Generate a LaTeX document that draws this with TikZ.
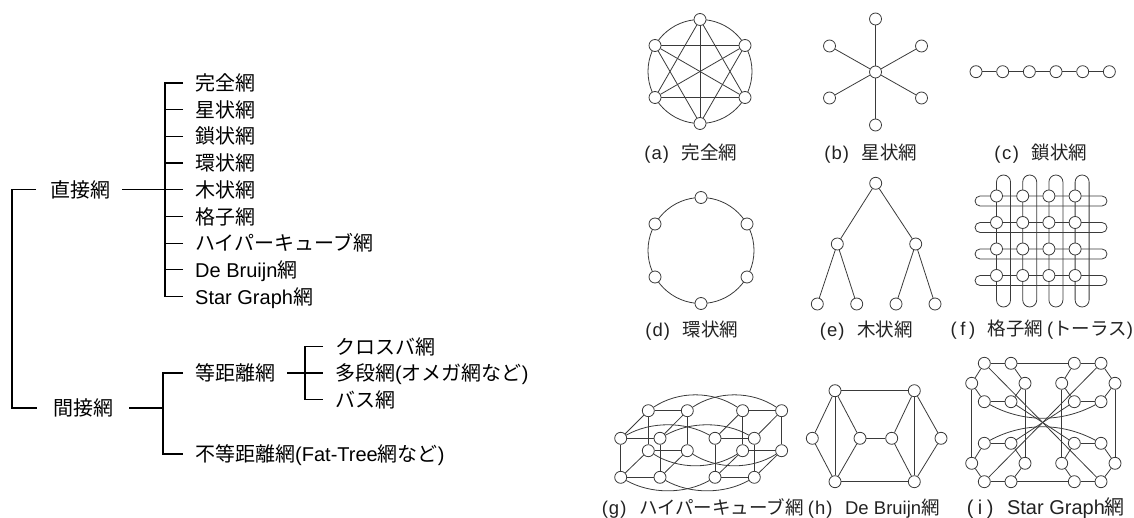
\documentclass[tikz,border=0pt]{standalone}
\usepackage{xcolor}
\usepackage{fontspec}
\setmainfont{Liberation Sans}
\newfontfamily\jp{Noto Sans CJK JP}
\usetikzlibrary{backgrounds}
\definecolor{ln}{HTML}{3A3A3A}
\definecolor{tx}{HTML}{222222}
\newcommand\subl[1]{\makebox[0.5em]{(}\makebox[0.5em]{#1}\makebox[0.5em]{)}\hspace{0.6em}}
\begin{document}
\begin{tikzpicture}[x=1pt,y=-1pt,
 tree/.style={line width=1.2pt},
 tl/.style={anchor=west,inner sep=0pt,font=\fontsize{20}{24}\selectfont,text height=17.6pt,text depth=2.4pt},
 vtx/.style={circle,draw=ln,fill=white,line width=0.8pt,minimum size=12pt,inner sep=0pt},
 ed/.style={draw=ln,line width=0.8pt},
 subcap/.style={inner sep=0pt,text=tx,font=\fontsize{18.5}{22}\selectfont,text height=16.3pt,text depth=2.2pt},
]
\useasboundingbox (0,0) rectangle (1134,518);

% ---------------- left tree ----------------
\node[tl] (t0) at (195,83) {\jp 完全網};
\node[tl] (t1) at (195,109.7) {\jp 星状網};
\node[tl] (t2) at (195,136.4) {\jp 鎖状網};
\node[tl] (t3) at (195,163.1) {\jp 環状網};
\node[tl] (t4) at (195,189.8) {\jp 木状網};
\node[tl] (t5) at (195,216.5) {\jp 格子網};
\node[tl] (t6) at (195,243.2) {\jp ハイパーキューブ網};
\node[tl] (t7) at (195,269.9) {De Bruijn{\jp 網}};
\node[tl] (t8) at (195,296.6) {Star Graph{\jp 網}};
\node[tl] (d) at (50,189.8) {\jp 直接網};
\node[tl] (m) at (53,408) {\jp 間接網};
\node[tl] (e1) at (195,373) {\jp 等距離網};
\node[tl] (e2) at (195,454) {{\jp 不等距離網}(Fat-Tree{\jp 網など})};
\node[tl] (s0) at (335,346.5) {\jp クロスバ網};
\node[tl] (s1) at (335,373) {{\jp 多段網}({\jp オメガ網など})};
\node[tl] (s2) at (335,399.5) {\jp バス網};

\draw[tree] ([xshift=-12]t0.west) -- ([xshift=-30]t0.west) -- ([xshift=-30]t8.west) -- ([xshift=-12]t8.west);
\foreach \k in {1,...,7} \draw[tree] ([xshift=-12]t\k.west) -- ([xshift=-30]t\k.west);
\draw[tree] ([xshift=12]d.east) -- ([xshift=-30]t4.west);
\draw[tree] ([xshift=-14]d.west) -- ([xshift=-38]d.west) |- ([xshift=-16]m.west);
\draw[tree] ([xshift=16]m.east) -- ([xshift=-32]e1.west |- m.east);
\draw[tree] ([xshift=-12]e1.west) -- ([xshift=-32]e1.west) -- ([xshift=-32]e2.west) -- ([xshift=-12]e2.west);
\draw[tree] ([xshift=-12]s0.west) -- ([xshift=-30]s0.west) -- ([xshift=-30]s2.west) -- ([xshift=-12]s2.west);
\draw[tree] ([xshift=12]e1.east) -- ([xshift=-12]s1.west);

% ---------------- (a) complete ----------------
\coordinate (ac) at (700,71.5);
\draw[ed] (ac) circle[radius=52pt];
\foreach \i/\x/\y in {0/0/-52,1/45/-26,2/45/26,3/0/52,4/-45/26,5/-45/-26}
  \node[vtx] (a\i) at ([shift={(\x,\y)}]ac) {};
\begin{pgfonlayer}{background}
\foreach \i/\j in {0/2,0/3,0/4,1/3,1/4,1/5,2/4,2/5,3/5} \draw[ed] (a\i) -- (a\j);
\end{pgfonlayer}
\node[subcap] (la) at (690,152) {\subl{a}{\jp 完全網}};

% ---------------- (b) star ----------------
\node[vtx] (b) at (875.5,72) {};
\foreach \i/\x/\y in {0/0/-53,1/46/-26,2/46/26,3/0/53,4/-46/26,5/-46/-26}
  \node[vtx] (b\i) at ([shift={(\x,\y)}]b.center) {};
\begin{pgfonlayer}{background}
\foreach \i in {0,...,5} \draw[ed] (b) -- (b\i);
\end{pgfonlayer}
\node[subcap] (lb) at (870,152) {\subl{b}{\jp 星状網}};

% ---------------- (c) chain ----------------
\foreach \k in {0,...,5} \node[vtx] (c\k) at (976+26.67*\k,71.7) {};
\foreach \p/\q in {0/1,1/2,2/3,3/4,4/5} \draw[ed] (c\p) -- (c\q);
\node[subcap] (lc) at (1040,152) {\subl{c}{\jp 鎖状網}};

% ---------------- (d) ring ----------------
\coordinate (dc) at (701,250.5);
\draw[ed] (dc) circle[radius=53pt];
\foreach \i/\x/\y in {0/0/-53,1/46/-26.5,2/46/26.5,3/0/53,4/-46/26.5,5/-46/-26.5}
  \node[vtx] (d\i) at ([shift={(\x,\y)}]dc) {};
\node[subcap] (ld) at (691,329) {\subl{d}{\jp 環状網}};

% ---------------- (e) tree ----------------
\node[vtx] (er) at (875.7,183.3) {};
\node[vtx] (el) at (837.3,244) {};
\node[vtx] (eR) at (915.7,244) {};
\node[vtx] (e0) at (817.3,304) {};
\node[vtx] (eA) at (856.7,304) {};
\node[vtx] (eB) at (896,304) {};
\node[vtx] (eC) at (935,304) {};
\foreach \p/\q in {er/el,er/eR,el/e0,el/eA,eR/eB,eR/eC} \draw[ed] (\p) -- (\q);
\node[subcap] (le) at (865.5,329) {\subl{e}{\jp 木状網}};

% ---------------- (f) torus ----------------
\foreach \k in {0,...,3}{
  \draw[ed,rounded corners=7pt] (996.5+26.2*\k,175) rectangle (1010.5+26.2*\k,307);
  \draw[ed,rounded corners=5pt] (975,196+26.5*\k) rectangle (1107,206+26.5*\k);
}
\foreach \i in {0,...,3}\foreach \j in {0,...,3}
  \node[vtx] (f\i\j) at (996.5+26.2*\i,196+26.5*\j) {};
\node[subcap] (lf) at (1041,328) {\subl{f}{\jp 格子網}\hspace{0.2em}({\jp トーラス})};

% ---------------- (g) hypercube ----------------
\foreach \n/\x/\y in {BTL/648.3/410.7,BTR/687.3/410.7,FTL/620.7/438.3,FTR/660/438.3,BBL/648.3/450.7,BBR/687.3/450.7,FBL/620.7/477.3,FBR/660/477.3}{
  \node[vtx] (gL\n) at (\x,\y) {};
  \node[vtx] (gR\n) at (\x+94.3,\y) {};
}
\begin{pgfonlayer}{background}
\foreach \s in {gL,gR}{
  \foreach \a/\b in {FTL/FTR,FBL/FBR,FTL/FBL,FTR/FBR,BTL/BTR,BBL/BBR,BTL/BBL,BTR/BBR,FTL/BTL,FTR/BTR,FBL/BBL,FBR/BBR}
    \draw[ed] (\s\a) -- (\s\b);
}
\foreach \n in {BTL,BTR} \draw[ed] (gL\n) .. controls +(30,-20) and +(-30,-20) .. (gR\n);
\foreach \n in {FTL,FTR} \draw[ed] (gL\n) .. controls +(30,-17) and +(-30,-17) .. (gR\n);
\foreach \n in {BBL,BBR} \draw[ed] (gL\n) .. controls +(30,19) and +(-30,19) .. (gR\n);
\foreach \n in {FBL,FBR} \draw[ed] (gL\n) .. controls +(30,17) and +(-30,17) .. (gR\n);
\end{pgfonlayer}
\node[subcap] (lg) at (702,507) {\subl{g}{\jp ハイパーキューブ網}};

% ---------------- (h) De Bruijn ----------------
\foreach \n/\x/\y in {TL/835/390.7,TR/914.3/390.7,L/812.3/438.3,ML/860/438.3,MR/891.7/438.3,R/941/438.3,BL/835/481.7,BR/914.3/481.7}
  \node[vtx] (h\n) at (\x,\y) {};
\foreach \a/\b in {TL/TR,BL/BR,TL/L,L/BL,TL/BL,TL/ML,ML/BL,ML/MR,TR/MR,MR/BR,TR/BR,TR/R,R/BR}
  \draw[ed] (h\a) -- (h\b);
\node[subcap] (lh) at (873,507) {\subl{h}De Bruijn{\jp 網}};

% ---------------- (i) star graph ----------------
\foreach \h/\ox/\oy in {UL/984.3/363.3,UR/1074.3/363.3,LL/984.3/443.3,LR/1074.3/443.3}{
  \foreach \n/\dx/\dy in {TL/0/0,TR/26.7/0,L/-12.6/20,R/40.7/20,BL/0/38.4,BR/26.7/38.4}
    \node[vtx] (i\h\n) at ([shift={(\dx,\dy)}]\ox,\oy) {};
}
\begin{pgfonlayer}{background}
\foreach \h in {UL,UR,LL,LR}{
  \foreach \a/\b in {TL/TR,TR/R,R/BR,BR/BL,BL/L,L/TL} \draw[ed] (i\h\a) -- (i\h\b);
}
\foreach \a/\b in {ULTR/URTL,LLBR/LRBL,ULL/LLL,URR/LRR,ULR/LLR,URL/LRL,ULTL/LRBR,URTR/LLBL,ULBR/LRTL,URBL/LLTR}
  \draw[ed] (i\a) -- (i\b);
\draw[ed] (iULBL) .. controls +(39,21) and +(-39,21) .. (iURBR);
\draw[ed] (iLLTL) .. controls +(39,-21) and +(-39,-21) .. (iLRTR);
\end{pgfonlayer}
\node[subcap,font=\fontsize{20}{24}\selectfont] (li) at (1045,507) {\subl{i}Star Graph{\jp 網}};
\end{tikzpicture}
\end{document}
